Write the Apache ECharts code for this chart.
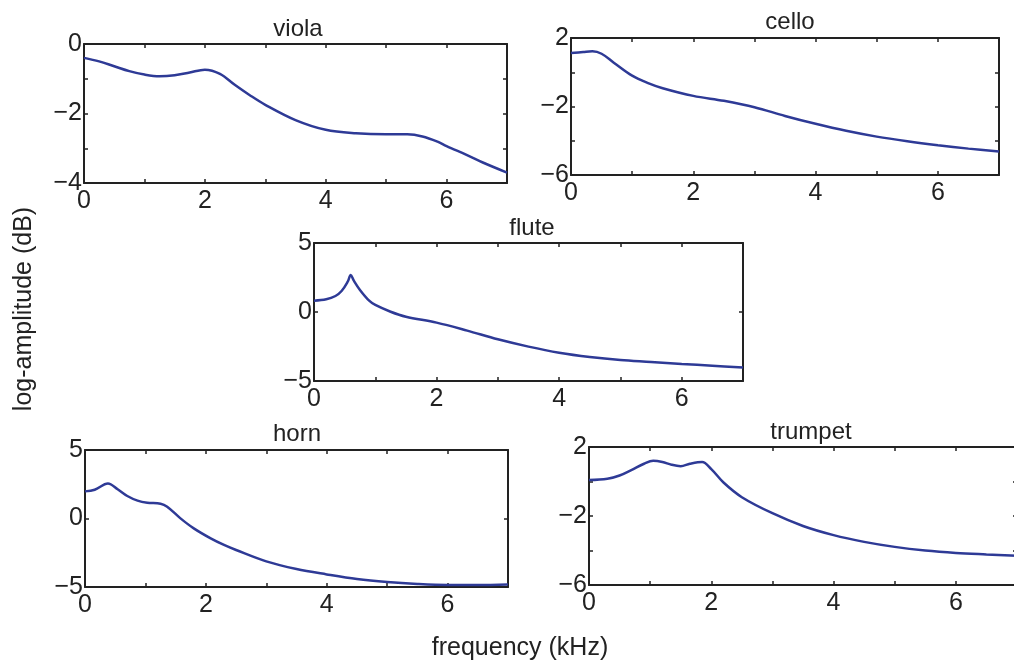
<!DOCTYPE html>
<html>
<head>
<meta charset="utf-8">
<title>log-amplitude spectra</title>
<script src="https://cdn.jsdelivr.net/npm/echarts@6/dist/echarts.min.js"></script>
<style>
    html, body { margin: 0; padding: 0; background: #fff; overflow: hidden; }
    /* a bit wider than the window: the trumpet frame runs off the right edge */
    #spectra { width: 1030px; height: 667px; }
</style>
</head>
<body>
<div id="spectra"></div>
<script>

/*频率刻度 (kHz)*/
var freqLabels = [0, 2, 4, 6];

/*viola*/
var violaFreq = [0, 0.25, 0.5, 0.75, 1, 1.25, 1.5, 1.75, 2, 2.25, 2.5, 2.75, 3, 3.5, 4, 4.5, 5, 5.35, 5.6, 5.85, 6, 6.33, 6.6, 7];
var violaAmp = [-0.40, -0.50, -0.64, -0.78, -0.88, -0.93, -0.90, -0.82, -0.74, -0.86, -1.18, -1.48, -1.75, -2.19, -2.47, -2.57, -2.60, -2.60, -2.66, -2.81, -2.94, -3.19, -3.41, -3.70];
var violaLabels = [0, -2, -4];

/*cello*/
var celloFreq = [0, 0.2, 0.35, 0.5, 0.7, 1, 1.25, 1.5, 2, 2.5, 3, 3.5, 4, 4.5, 5, 5.5, 6, 6.5, 7];
var celloAmp = [1.12, 1.18, 1.22, 1.08, 0.56, -0.20, -0.62, -0.93, -1.38, -1.67, -2.04, -2.55, -3.01, -3.42, -3.76, -4.03, -4.26, -4.46, -4.63];
var celloLabels = [2, -2, -6];

/*flute*/
var fluteFreq = [0, 0.2, 0.35, 0.45, 0.55, 0.6, 0.65, 0.75, 0.9, 1, 1.25, 1.5, 2, 2.5, 3, 3.5, 4, 4.5, 5, 5.5, 6, 6.5, 7];
var fluteAmp = [0.82, 0.92, 1.16, 1.52, 2.2, 2.68, 2.27, 1.6, 0.82, 0.51, 0.02, -0.34, -0.77, -1.35, -1.98, -2.51, -2.95, -3.26, -3.48, -3.62, -3.77, -3.89, -4.03];
var fluteLabels = [5, 0, -5];

/*horn*/
var hornFreq = [0, 0.16, 0.38, 0.54, 0.7, 0.87, 1.03, 1.25, 1.36, 1.58, 1.8, 2.08, 2.3, 2.5, 3, 3.5, 4, 4.5, 5, 5.5, 6, 6.5, 7];
var hornAmp = [1.98, 2.10, 2.55, 2.13, 1.64, 1.30, 1.15, 1.08, 0.86, 0.01, -0.72, -1.45, -1.93, -2.30, -3.13, -3.69, -4.08, -4.42, -4.64, -4.78, -4.85, -4.85, -4.81];
var hornLabels = [5, 0, -5];

/*trumpet*/
var trumpetFreq = [0, 0.3, 0.5, 0.7, 0.9, 1.05, 1.2, 1.35, 1.5, 1.65, 1.85, 2, 2.2, 2.5, 3, 3.5, 4, 4.5, 5, 5.5, 6, 6.5, 7];
var trumpetAmp = [0.08, 0.16, 0.35, 0.68, 1.03, 1.20, 1.13, 0.97, 0.89, 1.03, 1.13, 0.72, -0.06, -0.91, -1.84, -2.58, -3.11, -3.50, -3.79, -4.00, -4.14, -4.23, -4.31];
var trumpetLabels = [2, -2, -6];


var lineColor = '#2e3a96';
var inkColor = '#222';
var fontName = '"Liberation Sans", Arial, sans-serif';

/*每个子图的位置 (trumpet 的右边框在窗口外)*/
var panels = [
    {name: 'viola', freq: violaFreq, amp: violaAmp, labels: violaLabels, min: -4, max: 0, step: 1,
        left: 84, top: 44, width: 423, height: 139, titleX: 298, titleY: 29, rightLine: true},
    {name: 'cello', freq: celloFreq, amp: celloAmp, labels: celloLabels, min: -6, max: 2, step: 2,
        left: 571, top: 38, width: 428, height: 137, titleX: 790, titleY: 22, rightLine: true},
    {name: 'flute', freq: fluteFreq, amp: fluteAmp, labels: fluteLabels, min: -5, max: 5, step: 5,
        left: 314, top: 243, width: 429, height: 138, titleX: 532, titleY: 228, rightLine: true},
    {name: 'horn', freq: hornFreq, amp: hornAmp, labels: hornLabels, min: -5, max: 5, step: 5,
        left: 85, top: 450, width: 423, height: 137, titleX: 297, titleY: 434, rightLine: true},
    {name: 'trumpet', freq: trumpetFreq, amp: trumpetAmp, labels: trumpetLabels, min: -6, max: 2, step: 2,
        left: 589, top: 447, width: 428, height: 138, titleX: 811, titleY: 432, rightLine: false}
];


function pairs(xs, ys) {
    var out = [];
    for (var i = 0; i < xs.length; i++) {
        out.push([xs[i], ys[i]]);
    }
    return out;
}

function minusSign(v) {
    return String(v).replace('-', '\u2212');
}

function labelFormatter(list) {
    return function (v) {
        return list.indexOf(v) >= 0 ? minusSign(v) : '';
    };
}

function frameLine(show) {
    return {show: show, onZero: false, lineStyle: {color: inkColor, width: 2}};
}

function frameTick() {
    return {show: true, inside: true, length: 4, lineStyle: {color: inkColor, width: 1.5}};
}

function makeXAxis(gridIndex, position, withLabels) {
    return {
        type: 'value',
        gridIndex: gridIndex,
        position: position,
        min: 0,
        max: 7,
        interval: 1,
        axisLine: frameLine(true),
        axisTick: frameTick(),
        splitLine: {show: false},
        axisLabel: {
            show: withLabels,
            margin: 6,
            fontFamily: fontName,
            fontSize: 25,
            color: inkColor,
            formatter: labelFormatter(freqLabels)
        }
    };
}

function makeYAxis(gridIndex, p, position, withLabels) {
    return {
        type: 'value',
        gridIndex: gridIndex,
        position: position,
        min: p.min,
        max: p.max,
        interval: p.step,
        axisLine: frameLine(position === 'left' || p.rightLine),
        axisTick: frameTick(),
        splitLine: {show: false},
        axisLabel: {
            show: withLabels,
            margin: 2,
            fontFamily: fontName,
            fontSize: 25,
            color: inkColor,
            formatter: labelFormatter(p.labels)
        }
    };
}

function makeText(text, x, y, size, rotation) {
    return {
        type: 'text',
        x: x,
        y: y,
        rotation: rotation || 0,
        silent: true,
        style: {
            text: text,
            font: size + 'px ' + fontName,
            fill: inkColor,
            align: 'center',
            verticalAlign: 'middle',
            textAlign: 'center',
            textVerticalAlign: 'middle'
        }
    };
}


function loadSpectra() {
    var chart = echarts.init(document.getElementById('spectra'));

    var grids = [], xAxes = [], yAxes = [], series = [], texts = [];

    panels.forEach(function (p, i) {
        grids.push({left: p.left, top: p.top, width: p.width, height: p.height,
            containLabel: false, outerBoundsMode: 'none'});

        xAxes.push(makeXAxis(i, 'bottom', true));
        xAxes.push(makeXAxis(i, 'top', false));
        yAxes.push(makeYAxis(i, p, 'left', true));
        yAxes.push(makeYAxis(i, p, 'right', false));

        series.push({
            name: p.name,
            type: 'line',
            xAxisIndex: 2 * i,
            yAxisIndex: 2 * i,
            data: pairs(p.freq, p.amp),
            smooth: 0.35,
            showSymbol: false,
            silent: true,
            lineStyle: {color: lineColor, width: 2.5}
        });

        texts.push(makeText(p.name, p.titleX, p.titleY, 24));
    });

    texts.push(makeText('frequency (kHz)', 520, 648, 25));
    texts.push(makeText('log-amplitude (dB)', 24, 309, 25, Math.PI / 2));

    var option = {
        animation: false,
        backgroundColor: '#fff',
        grid: grids,
        xAxis: xAxes,
        yAxis: yAxes,
        series: series,
        graphic: texts
    };

    chart.setOption(option);
}

loadSpectra();

</script>
</body>
</html>
